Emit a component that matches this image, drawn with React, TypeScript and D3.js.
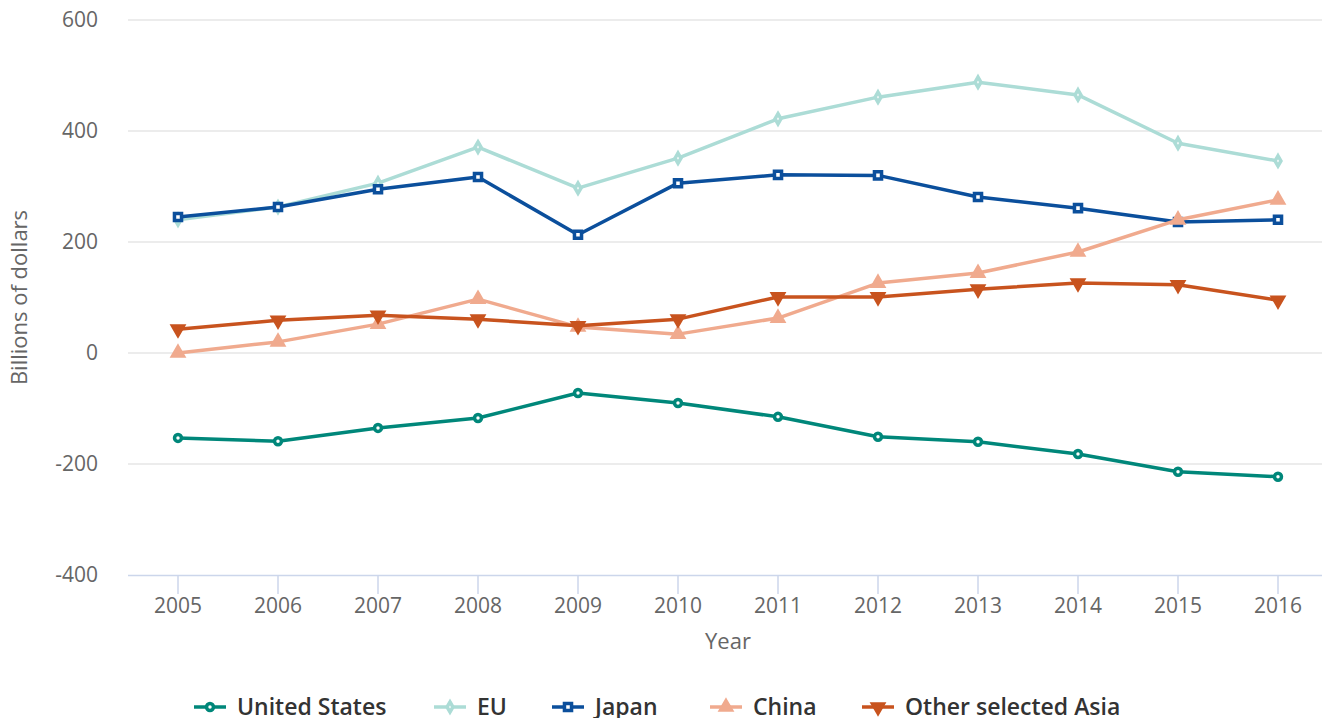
import React, { useEffect, useRef } from 'react'
import * as d3 from 'd3'

const years = ['2005', '2006', '2007', '2008', '2009', '2010', '2011', '2012', '2013', '2014', '2015', '2016']
const unitedStates = [-153, -159, -135, -117, -72, -90, -115, -151, -160, -182, -214, -223]
const eu = [240, 263, 306, 371, 297, 351, 422, 461, 488, 465, 378, 346]
const japan = [245, 263, 295, 317, 213, 306, 321, 320, 281, 261, 236, 240]
const china = [0, 20, 52, 97, 47, 34, 63, 126, 144, 182, 240, 276]
const otherAsia = [43, 59, 68, 61, 49, 61, 101, 101, 115, 126, 123, 95]
const yTicks = [-400, -200, 0, 200, 400, 600]

const series = [
  { name: 'United States', values: unitedStates, color: '#00877a', symbol: d3.symbolCircle, size: 38, hollow: true },
  { name: 'EU', values: eu, color: '#acdcd6', symbol: d3.symbolDiamond, size: 30, hollow: true },
  { name: 'Japan', values: japan, color: '#0b4f9c', symbol: d3.symbolSquare, size: 50, hollow: true },
  { name: 'China', values: china, color: '#f0aa8e', symbol: d3.symbolTriangle, size: 50, hollow: false },
  { name: 'Other selected Asia', values: otherAsia, color: '#c8531e', symbol: 'down', size: 50, hollow: false },
]

export default function App() {
  const ref = useRef<SVGSVGElement>(null)

  useEffect(() => {
    const width = 1330
    const height = 722
    const left = 128, right = 1328, top = 20, bottom = 575
    const font = '"Open Sans", sans-serif'

    const svg = d3.select(ref.current!)
    svg.selectAll('*').remove()
    svg.attr('width', width).attr('height', height)

    const x = d3.scaleBand().domain(years).range([left, right])
    const y = d3.scaleLinear().domain([-400, 600]).range([bottom, top])
    const cx = (d: string) => (x(d) ?? 0) + x.bandwidth() / 2

    // gridlines
    svg.append('g').selectAll('line').data(yTicks.filter(t => t !== -400)).join('line')
      .attr('x1', left).attr('x2', 1330)
      .attr('y1', d => y(d)).attr('y2', d => y(d))
      .attr('stroke', '#e6e6e6').attr('stroke-width', 1.5)

    svg.append('g').selectAll('text').data(yTicks).join('text')
      .attr('x', 98).attr('y', d => y(d))
      .attr('dy', '0.35em')
      .attr('text-anchor', 'end')
      .attr('font-family', font).attr('font-size', 21).attr('fill', '#666666')
      .text(d => d)

    // x axis
    svg.append('line').attr('x1', left).attr('x2', right).attr('y1', bottom + 0.5).attr('y2', bottom + 0.5)
      .attr('stroke', '#ccd6eb').attr('stroke-width', 1.5)
    svg.append('g').selectAll('line').data(years).join('line')
      .attr('x1', d => cx(d)).attr('x2', d => cx(d))
      .attr('y1', bottom).attr('y2', bottom + 19)
      .attr('stroke', '#ccd6eb').attr('stroke-width', 1.5)
    svg.append('g').selectAll('text').data(years).join('text')
      .attr('x', d => cx(d)).attr('y', 613)
      .attr('text-anchor', 'middle')
      .attr('font-family', font).attr('font-size', 21).attr('fill', '#666666')
      .text(d => d)

    svg.append('text').attr('x', 728).attr('y', 649)
      .attr('text-anchor', 'middle')
      .attr('font-family', font).attr('font-size', 22).attr('fill', '#666666')
      .text('Year')

    svg.append('text')
      .attr('transform', `translate(27,${(top + bottom) / 2}) rotate(-90)`)
      .attr('text-anchor', 'middle')
      .attr('font-family', font).attr('font-size', 22).attr('fill', '#666666')
      .text('Billions of dollars')

    const markerPath = (sym: any, size: number) => {
      if (sym === 'down') return d3.symbol(d3.symbolTriangle, size)()
      return d3.symbol(sym, size)()
    }

    const line = d3.line<number>().x((_, i) => cx(years[i])).y(d => y(d))

    series.forEach(s => {
      const g = svg.append('g')
      g.append('path').datum(s.values)
        .attr('d', line)
        .attr('fill', 'none').attr('stroke', s.color).attr('stroke-width', 3.5)
        .attr('stroke-linejoin', 'round')
      g.selectAll('path.pt').data(s.values).join('path')
        .attr('class', 'pt')
        .attr('d', markerPath(s.symbol, s.size))
        .attr('transform', (d, i) => `translate(${cx(years[i])},${y(d)})${s.symbol === 'down' ? ' rotate(180)' : ''}`)
        .attr('fill', s.hollow ? '#ffffff' : s.color)
        .attr('stroke', s.color).attr('stroke-width', 3.5)
    })

    // legend
    const legendX = [194, 434, 552, 710, 862]
    const lg = svg.append('g')
    series.forEach((s, i) => {
      const g = lg.append('g').attr('transform', `translate(${legendX[i]},707)`)
      g.append('line').attr('x1', 0).attr('x2', 32).attr('y1', 0).attr('y2', 0)
        .attr('stroke', s.color).attr('stroke-width', 3.5)
      g.append('path')
        .attr('d', markerPath(s.symbol, s.size))
        .attr('transform', `translate(16,0)${s.symbol === 'down' ? ' rotate(180)' : ''}`)
        .attr('fill', s.hollow ? '#ffffff' : s.color)
        .attr('stroke', s.color).attr('stroke-width', 3.5)
      g.append('text').attr('x', 43).attr('y', 0).attr('dy', '0.35em')
        .attr('font-family', font).attr('font-size', 23).attr('font-weight', 600)
        .attr('fill', '#333333')
        .text(s.name)
    })
  }, [])

  return (
    <div style={{ margin: -8 }}>
      <svg ref={ref}></svg>
    </div>
  )
}
